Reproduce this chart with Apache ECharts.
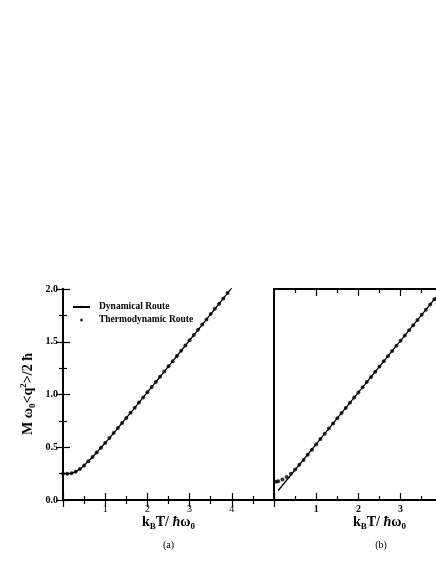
<!DOCTYPE html>
<html>
<head>
<meta charset="utf-8">
<script src="https://cdn.jsdelivr.net/npm/echarts@6/dist/echarts.min.js"></script>
<style>
  html, body { margin: 0; padding: 0; background: #fff; }
  #chart { width: 436px; height: 564px; }
</style>
</head>
<body>
<div id="chart"></div>
<script>
// panel (a): both routes fall on the same curve
const tempA = [0, 0.1, 0.2, 0.3, 0.4, 0.5, 0.6, 0.7, 0.8, 0.9, 1.0, 1.1, 1.2, 1.3, 1.4, 1.5, 1.6, 1.7, 1.8, 1.9,
  2.0, 2.1, 2.2, 2.3, 2.4, 2.5, 2.6, 2.7, 2.8, 2.9, 3.0, 3.1, 3.2, 3.3, 3.4, 3.5, 3.6, 3.7, 3.8, 3.9, 4.0];
const routeA = [0.250, 0.250, 0.253, 0.268, 0.295, 0.328, 0.367, 0.408, 0.451, 0.495, 0.541, 0.587, 0.634, 0.682,
  0.730, 0.778, 0.826, 0.874, 0.923, 0.972, 1.021, 1.070, 1.119, 1.168, 1.217, 1.267, 1.316, 1.365, 1.415, 1.464,
  1.514, 1.563, 1.613, 1.663, 1.712, 1.762, 1.812, 1.861, 1.911, 1.961, 2.010];

// panel (b): straight dynamical line, thermodynamic dots lift off at low T
const tempLineB = [0.1, 1, 2, 3, 4];
const dynB = [0.09, 0.53, 1.02, 1.51, 2.0];
const tempDotsB = [0.05, 0.1, 0.2, 0.3, 0.4, 0.5, 0.6, 0.7, 0.8, 0.9, 1.0, 1.1, 1.2, 1.3, 1.4, 1.5, 1.6, 1.7, 1.8, 1.9,
  2.0, 2.1, 2.2, 2.3, 2.4, 2.5, 2.6, 2.7, 2.8, 2.9, 3.0, 3.1, 3.2, 3.3, 3.4, 3.5, 3.6, 3.7, 3.8, 3.9];
const thermoB = [0.172, 0.178, 0.195, 0.218, 0.250, 0.290, 0.335, 0.380, 0.428, 0.476, 0.525, 0.579, 0.628, 0.677,
  0.726, 0.775, 0.824, 0.873, 0.922, 0.971, 1.020, 1.069, 1.118, 1.167, 1.216, 1.265, 1.314, 1.363, 1.412, 1.461,
  1.510, 1.559, 1.608, 1.657, 1.706, 1.755, 1.804, 1.853, 1.902, 1.951];

const xTicks = [1, 2, 3, 4];
const yTicks = ['0.0', '0.5', '1.0', '1.5', '2.0'];

const serif = 'Liberation Serif';
const pairs = (xs, ys) => xs.map((x, i) => [x, ys[i]]);

const titleRich = {
  m: { fontFamily: serif, fontWeight: 'bold', fontSize: 14, color: '#000', lineHeight: 18, verticalAlign: 'middle' },
  h: { fontFamily: serif, fontWeight: 'bold', fontStyle: 'italic', fontSize: 14, color: '#000', lineHeight: 18, verticalAlign: 'middle' },
  s: { fontFamily: serif, fontWeight: 'bold', fontSize: 9, color: '#000', lineHeight: 9, verticalAlign: 'bottom' },
  p: { fontFamily: serif, fontWeight: 'bold', fontSize: 9, color: '#000', lineHeight: 9, verticalAlign: 'top' }
};
const xTitle = '{m|k}{s|B}{m|T/ }{h|ħ}{m|ω}{s|0}';

const line = { lineStyle: { color: '#000', width: 2 } };
const tick = { inside: true, length: 7, lineStyle: { color: '#000', width: 1.2 } };
const minor = { show: true, splitNumber: 2, length: 4, lineStyle: { color: '#000', width: 1.2 } };

function xAxis(grid, pos, labels, bold) {
  return {
    type: 'value', gridIndex: grid, position: pos, min: 0, max: 5, interval: 1,
    axisLine: line, axisTick: tick, minorTick: minor, splitLine: { show: false },
    axisLabel: {
      show: labels, margin: 4, fontFamily: serif, fontSize: 10, color: '#000',
      fontWeight: bold ? 'bold' : 'normal',
      formatter: v => xTicks.includes(v) ? String(v) : ''
    },
    name: labels ? xTitle : '', nameLocation: 'middle', nameGap: 13,
    nameTextStyle: { rich: titleRich }
  };
}

const chart = echarts.init(document.getElementById('chart'));
chart.setOption({
  animation: false,
  backgroundColor: '#fff',
  // panel (b) runs off the right edge, as in the cropped original
  grid: [
    { left: 63, top: 289, width: 211, height: 211, outerBoundsMode: 'none' },
    { left: 274, top: 289, width: 211, height: 211, outerBoundsMode: 'none' }
  ],
  xAxis: [
    xAxis(0, 'bottom', true, false),
    xAxis(0, 'top', false, false),
    xAxis(1, 'bottom', true, true),
    xAxis(1, 'top', false, false)
  ],
  yAxis: [
    {
      type: 'value', gridIndex: 0, position: 'left', min: 0, max: 2, interval: 0.5,
      axisLine: line, axisTick: tick, minorTick: minor, splitLine: { show: false },
      axisLabel: {
        margin: 5, fontFamily: serif, fontWeight: 'bold', fontSize: 10, color: '#000',
        formatter: v => yTicks[Math.round(v / 0.5)]
      }
    },
    {
      type: 'value', gridIndex: 0, position: 'right', min: 0, max: 2, interval: 0.5,
      axisLine: line, axisTick: tick, minorTick: minor, splitLine: { show: false },
      axisLabel: { show: false }
    },
    {
      type: 'value', gridIndex: 1, position: 'left', min: 0, max: 2, interval: 0.5,
      axisLine: line, axisTick: { show: false }, splitLine: { show: false },
      axisLabel: { show: false }
    }
  ],
  legend: {
    orient: 'vertical', left: 72, top: 302, padding: 0, itemGap: 3,
    itemWidth: 17, itemHeight: 3,
    textStyle: { fontFamily: serif, fontWeight: 'bold', fontSize: 9.5, color: '#000', padding: [0, 0, 0, 4] },
    data: [{ name: 'Dynamical Route' }, { name: 'Thermodynamic Route', icon: 'circle' }]
  },
  graphic: [
    {
      type: 'text', x: 28, y: 394, rotation: Math.PI / 2,
      style: { text: '{m|M ω}{s|0}{m|<q}{p|2}{m|>/2 ħ}', rich: titleRich, align: 'center', verticalAlign: 'middle' }
    },
    {
      type: 'text', x: 168.5, y: 545,
      style: { text: '(a)', fontFamily: serif, fontSize: 10, fill: '#000', align: 'center', verticalAlign: 'middle' }
    },
    {
      type: 'text', x: 381, y: 545,
      style: { text: '(b)', fontFamily: serif, fontSize: 10, fill: '#000', align: 'center', verticalAlign: 'middle' }
    }
  ],
  series: [
    {
      name: 'Dynamical Route', type: 'line', xAxisIndex: 0, yAxisIndex: 0,
      data: pairs(tempA, routeA), symbol: 'none', lineStyle: { color: '#000', width: 1.3 }, itemStyle: { color: '#000' }
    },
    {
      name: 'Thermodynamic Route', type: 'scatter', xAxisIndex: 0, yAxisIndex: 0,
      data: pairs(tempA, routeA), symbolSize: 4, itemStyle: { color: '#000' }
    },
    {
      name: 'Dynamical Route', type: 'line', xAxisIndex: 2, yAxisIndex: 2,
      data: pairs(tempLineB, dynB), symbol: 'none', lineStyle: { color: '#000', width: 1.3 }, itemStyle: { color: '#000' }
    },
    {
      name: 'Thermodynamic Route', type: 'scatter', xAxisIndex: 2, yAxisIndex: 2,
      data: pairs(tempDotsB, thermoB), symbolSize: 4, itemStyle: { color: '#000' }
    }
  ]
});
</script>
</body>
</html>
